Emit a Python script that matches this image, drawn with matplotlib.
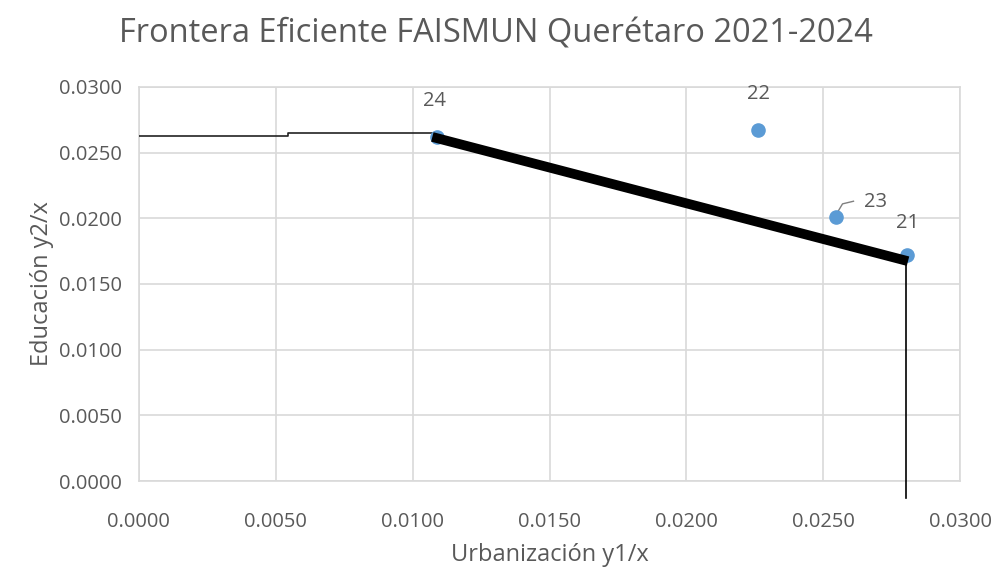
import matplotlib.pyplot as plt
import numpy as np

plt.rcParams['font.family'] = ['Open Sans', 'DejaVu Sans']

# points (urbanizacion y1/x, educacion y2/x)
years = ['21', '22', '23', '24']
urban = [0.02806, 0.02262, 0.02547, 0.01089]
educ = [0.01721, 0.02673, 0.02010, 0.02619]

# frontier pieces
front_x = [0.01089, 0.02792]
front_y = [0.02610, 0.01683]
left_x = [0.0000, 0.00545, 0.00545, 0.01089]
left_y = [0.02630, 0.02630, 0.02649, 0.02649]
vert_x = [0.02803, 0.02803]
vert_y = [0.01683, -0.0013]

grey = '#595959'
fig = plt.figure(figsize=(9.92, 5.72), dpi=100)
ax = fig.add_axes([0.140, 0.159, 0.828, 0.689])

ax.plot(left_x, left_y, color='#222222', lw=1.2, zorder=3)
ax.plot(vert_x, vert_y, color='black', lw=1.2, clip_on=False, zorder=3)
ax.scatter(urban, educ, s=90, color='#5B9BD5', zorder=4)
ax.plot(front_x, front_y, color='black', lw=7, zorder=5)

offsets = {'21': (0, 23), '22': (0, 26), '23': (28, 11), '24': (-2, 26)}
for lab, x, y in zip(years, urban, educ):
    dx, dy = offsets[lab]
    ax.annotate(lab, (x, y), xytext=(dx, dy), textcoords='offset points',
                ha='center', va='center', fontsize=14.5, color=grey)
# leader line for 23
ax.plot([0.02550, 0.02570, 0.02610], [0.02040, 0.02110, 0.02130],
        color='#7f7f7f', lw=1, zorder=3)

ax.set_xlim(0, 0.03)
ax.set_ylim(0, 0.03)
ax.set_xticks(np.arange(0, 0.0301, 0.005))
ax.set_yticks(np.arange(0, 0.0301, 0.005))
ax.xaxis.set_major_formatter(plt.FormatStrFormatter('%.4f'))
ax.yaxis.set_major_formatter(plt.FormatStrFormatter('%.4f'))
ax.tick_params(length=0, labelsize=14.5, labelcolor=grey)
ax.tick_params(axis='x', pad=22)
ax.tick_params(axis='y', pad=12)
ax.grid(True, color='#d9d9d9', lw=1.2)
ax.set_axisbelow(True)
for s in ax.spines.values():
    s.set_color('#d9d9d9')
    s.set_linewidth(1.2)

ax.set_xlabel('Urbanización y1/x', fontsize=17, color=grey, labelpad=8)
ax.set_ylabel('Educación y2/x', fontsize=17, color=grey, labelpad=4)
fig.suptitle('Frontera Eficiente FAISMUN Querétaro 2021-2024', fontsize=23.5,
             color=grey, y=0.97)

fig.savefig('out.png', dpi=100)
